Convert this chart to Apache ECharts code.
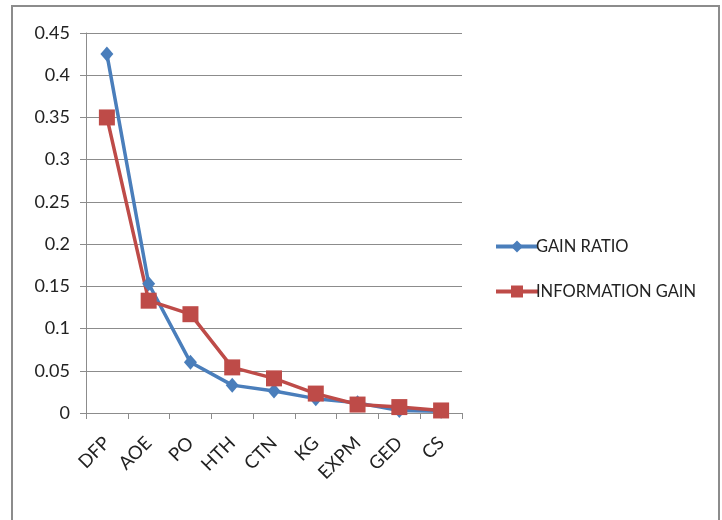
<!DOCTYPE html>
<html><head><meta charset="utf-8">
<script src="https://cdn.jsdelivr.net/npm/echarts@6/dist/echarts.min.js"></script>
<style>html,body{margin:0;padding:0;background:#fff}#c{width:722px;height:520px}</style>
</head><body><div id="c"></div>
<script>
const categories = ['DFP','AOE','PO','HTH','CTN','KG','EXPM','GED','CS'];
const gainRatio = [0.425,0.153,0.060,0.033,0.026,0.017,0.012,0.003,0.002];
const infoGain = [0.350,0.133,0.117,0.054,0.041,0.023,0.010,0.007,0.003];
const yTicks = [0,0.05,0.1,0.15,0.2,0.25,0.3,0.35,0.4,0.45];

const font = "Lato,'Open Sans',sans-serif";
const chart = echarts.init(document.getElementById('c'));
chart.setOption({
  animation:false,
  backgroundColor:'#fff',
  graphic:[{type:'rect',shape:{x:12,y:6,width:707,height:540},style:{fill:'none',stroke:'#8c8c8c',lineWidth:2},silent:true}],
  grid:{left:86,top:33,width:376,height:380,containLabel:false},
  legend:{orient:'vertical',left:489,top:233,itemWidth:42,itemHeight:15,itemGap:28,
    lineStyle:{width:4},
    textStyle:{fontFamily:font,fontSize:16.5,color:'#222',padding:[0,0,0,-7]},
    data:['GAIN RATIO','INFORMATION GAIN']},
  xAxis:{type:'category',data:categories,boundaryGap:true,
    axisLine:{lineStyle:{color:'#8c8c8c',width:1}},
    axisTick:{show:true,length:6,lineStyle:{color:'#8c8c8c'}},
    axisLabel:{rotate:45,fontFamily:font,fontSize:18.5,color:'#222',margin:27}},
  yAxis:{type:'value',min:0,max:0.45,interval:0.05,
    axisLine:{show:true,lineStyle:{color:'#8c8c8c'}},
    axisTick:{show:true,length:6,lineStyle:{color:'#8c8c8c'}},
    splitLine:{lineStyle:{color:'#8c8c8c',width:1}},
    axisLabel:{fontFamily:font,fontSize:18,color:'#222',margin:16,
      formatter:v=>{const t=yTicks.find(x=>Math.abs(x-v)<1e-9);return String(+(t??v).toFixed(2));}}},
  series:[
    {name:'GAIN RATIO',type:'line',data:gainRatio,symbol:'diamond',symbolSize:[13,15],
      lineStyle:{color:'#4a7ebb',width:3.5},itemStyle:{color:'#4a7ebb'}},
    {name:'INFORMATION GAIN',type:'line',data:infoGain,symbol:'rect',symbolSize:16,
      lineStyle:{color:'#be4b48',width:3.5},itemStyle:{color:'#be4b48'}}
  ]
});
</script></body></html>
